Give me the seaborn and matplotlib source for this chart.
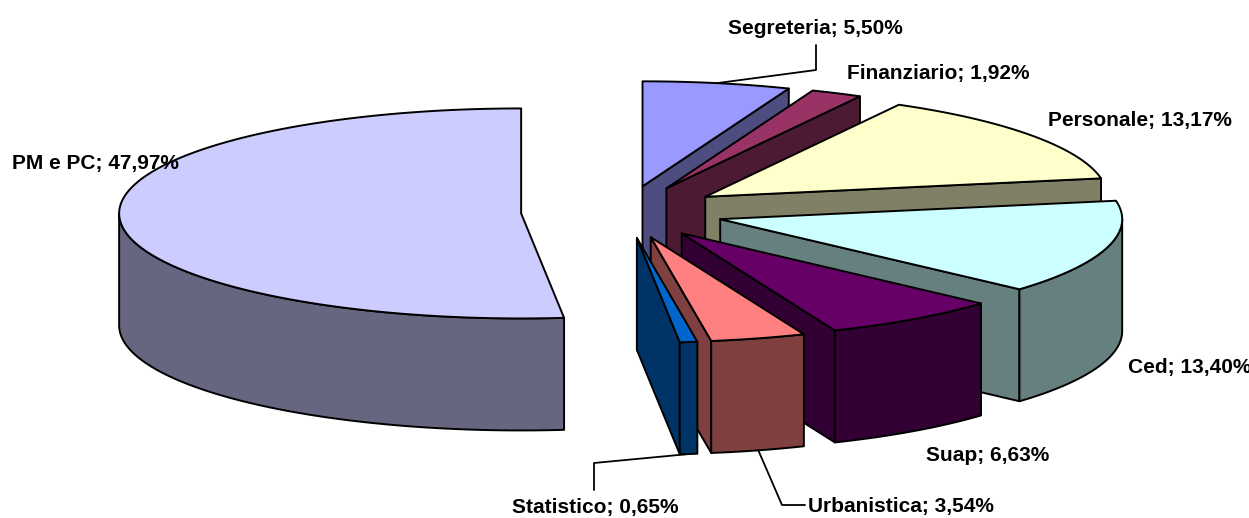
import numpy as np
import matplotlib
matplotlib.use("Agg")
import matplotlib.pyplot as plt
from matplotlib.patches import Polygon
import seaborn as sns

# ---------------- data ----------------
categories = ["Segreteria", "Finanziario", "Personale", "Ced", "Suap",
              "Urbanistica", "Statistico", "PM e PC"]
values = [5.50, 1.92, 13.17, 13.40, 6.63, 3.54, 0.65, 47.97]
top_colors = ["#9999FF", "#993366", "#FFFFCC", "#CCFFFF", "#660066",
              "#FF8080", "#0066CC", "#CCCCFF"]

labels = [f"{c}; {v:.2f}%".replace(".", ",") for c, v in zip(categories, values)]

# ---------------- style / layout ----------------
sns.set_theme(style="white")
plt.rcParams["font.family"] = ["Liberation Sans", "DejaVu Sans"]

W, H = 1249, 518
fig = plt.figure(figsize=(W / 100, H / 100), dpi=100)
ax = fig.add_axes([0, 0, 1, 1])
ax.set_xlim(0, W)
ax.set_ylim(H, 0)
ax.axis("off")

CX, CY = 624, 212        # pie centre (pixels)
A, B = 402, 105          # ellipse radii
DEPTH = 112              # thickness
K = B / A
explode = [100, 100, 100, 100, 100, 100, 100, 103]

# label placement: (x_left, baseline)
label_pos = {
    "Segreteria": (728, 34), "Finanziario": (847, 79), "Personale": (1048, 126),
    "Ced": (1128, 373), "Suap": (926, 461), "Urbanistica": (808, 512),
    "Statistico": (512, 513), "PM e PC": (12, 169),
}

total = float(np.sum(values))
fr = np.array(values) / total
start_cw = np.concatenate([[0.0], np.cumsum(fr)[:-1]]) * 360.0
span = fr * 360.0


def side_color(hexc):
    r, g, b = matplotlib.colors.to_rgb(hexc)
    return (r * 0.5, g * 0.5, b * 0.5)


def rim(apx, apy, th, dz=0.0):
    t = np.deg2rad(th)
    return apx + A * np.cos(t), apy - B * np.sin(t) + dz


slices = []
for i in range(len(values)):
    th2 = 90.0 - start_cw[i]
    th1 = th2 - span[i]
    mid = 0.5 * (th1 + th2)
    m = np.deg2rad(mid)
    apx = CX + explode[i] * np.cos(m)
    apy = CY - explode[i] * np.sin(m) * K
    slices.append(dict(i=i, th1=th1, th2=th2, mid=mid, apx=apx, apy=apy))

# back to front
order = sorted(slices, key=lambda s: -np.sin(np.deg2rad(s["mid"])))

LW = 1.4
for s in order:
    i, th1, th2, apx, apy = s["i"], s["th1"], s["th2"], s["apx"], s["apy"]
    top_c = top_colors[i]
    sd_c = side_color(top_c)
    z = len(order) * 10 + order.index(s) * 10
    # radial faces
    for th, vis in ((th1, np.cos(np.deg2rad(th1)) > 0.01),
                    (th2, np.cos(np.deg2rad(th2)) < -0.01)):
        if vis:
            rx, ry = rim(apx, apy, th)
            poly = [(apx, apy), (rx, ry), (rx, ry + DEPTH), (apx, apy + DEPTH)]
            ax.add_patch(Polygon(poly, closed=True, fc=sd_c, ec="black", lw=LW,
                                 joinstyle="round", zorder=z))
    # outer curved side (front half only)
    for k in range(-2, 3):
        lo, hi = max(th1, k * 360 - 180), min(th2, k * 360)
        if hi - lo > 0.05:
            ts = np.linspace(lo, hi, max(3, int((hi - lo) * 2)))
            xs, ys = rim(apx, apy, ts)
            pts = list(zip(xs, ys)) + list(zip(xs[::-1], ys[::-1] + DEPTH))
            ax.add_patch(Polygon(pts, closed=True, fc=sd_c, ec="black", lw=LW,
                                 joinstyle="round", zorder=z + 1))
    # top face
    ts = np.linspace(th1, th2, max(3, int((th2 - th1) * 2)))
    xs, ys = rim(apx, apy, ts)
    pts = [(apx, apy)] + list(zip(xs, ys))
    ax.add_patch(Polygon(pts, closed=True, fc=top_c, ec="black", lw=LW,
                         joinstyle="round", zorder=z + 2))

# ---------------- labels & leader lines ----------------
for s in slices:
    cat = categories[s["i"]]
    x, y = label_pos[cat]
    ax.text(x, y, labels[s["i"]], ha="left", va="baseline", fontsize=15,
            fontweight="bold", color="black", zorder=500)

byname = {categories[s["i"]]: s for s in slices}
# Segreteria leader: from top rim at mid-angle
s = byname["Segreteria"]
x0, y0 = rim(s["apx"], s["apy"], s["mid"])
ax.plot([x0, 816, 816], [y0, 70, 45], color="black", lw=1.3, zorder=400)
# Statistico leader: from bottom of outer side
s = byname["Statistico"]
x0, y0 = rim(s["apx"], s["apy"], s["mid"], DEPTH)
ax.plot([x0, 594, 594], [y0, 463, 490], color="black", lw=1.3, zorder=400)
# Urbanistica leader
s = byname["Urbanistica"]
x0, y0 = rim(s["apx"], s["apy"], s["mid"], DEPTH)
ax.plot([x0, 782, 805], [y0, 505, 505], color="black", lw=1.3, zorder=400)

fig.savefig("out.png", dpi=100, facecolor="white")
